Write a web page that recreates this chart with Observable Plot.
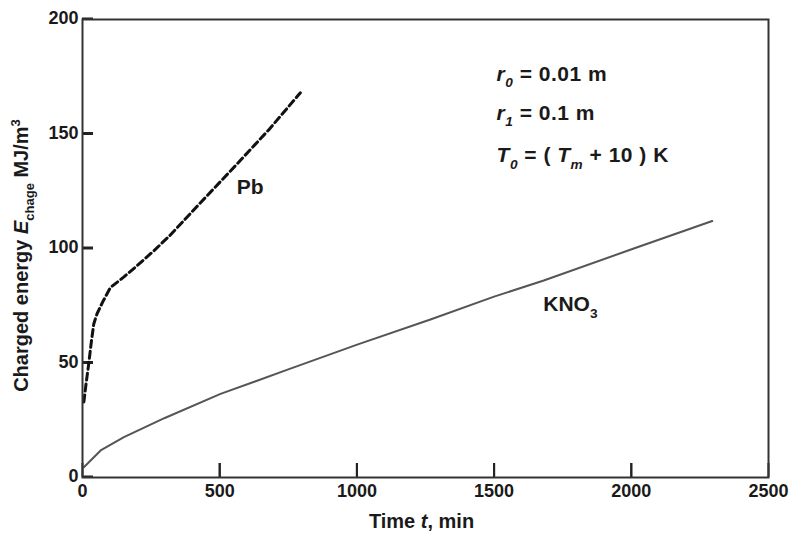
<!DOCTYPE html>
<html><head><meta charset="utf-8">
<script src="https://cdn.jsdelivr.net/npm/d3@7"></script>
<script src="https://cdn.jsdelivr.net/npm/@observablehq/plot@0.6"></script>
<style>body{margin:0;background:#fff} svg{display:block}</style>
</head><body><div id="chart"></div>
<script>
// ---- data ----
const xTicks = [0, 500, 1000, 1500, 2000, 2500];
const yTicks = [0, 50, 100, 150, 200];

const kno3Time   = [5, 66, 151, 300, 503, 750, 1001, 1268, 1500, 1681, 2009, 2295];
const kno3Energy = [4.5, 11.8, 17.6, 26, 36.5, 47.2, 58, 69, 79, 86, 100, 112];

const pbTime   = [5, 12, 23, 33, 41, 53, 75, 102, 150, 199, 260, 321, 430, 564, 680, 794];
const pbEnergy = [33, 40, 50, 60, 67, 71.5, 77, 83, 87.5, 92.5, 99, 106, 120, 137, 152, 168];

const annoText = ["r0 = 0.01 m", "r1 = 0.1 m", "T0 = ( Tm + 10 ) K", "Pb", "KNO3"];
const annoTime = [1509, 1509, 1509, 611, 1778];
const annoEnergy = [176, 159, 140.6, 126.6, 75.5];
const annoAnchor = ["start", "start", "start", "middle", "middle"];

const xTitle = "Time t, min";
const yTitle = "Charged energy Echage MJ/m3";

// ---- build ----
const font = "'Liberation Sans', Arial, sans-serif";
const ink = "#1a1a1a";
const kno3 = kno3Time.map((t, i) => ({t, e: kno3Energy[i]}));
const pb = pbTime.map((t, i) => ({t, e: pbEnergy[i]}));
const anno = annoText.map((s, i) => ({s, t: annoTime[i], e: annoEnergy[i], a: annoAnchor[i]}));

const W = 794, H = 543, ML = 82, MR = 26, MT = 19, MB = 66;
const frameW = W - ML - MR, frameH = H - MT - MB;

const chart = Plot.plot({
  width: W, height: H,
  marginLeft: ML, marginRight: MR, marginTop: MT, marginBottom: MB,
  style: {fontFamily: font, fontWeight: "bold", fontSize: "18px", color: ink, background: "#fff"},
  x: {domain: [xTicks[0], xTicks[xTicks.length - 1]]},
  y: {domain: [yTicks[0], yTicks[yTicks.length - 1]]},
  marks: [
    // axes with inward ticks (negative tick size) and labels outside
    Plot.axisX(xTicks, {tickSize: -14, tickPadding: 21, label: null, tickFormat: d3.format("d"), fontSize: 18, fontWeight: "bold", fill: ink, stroke: "#222", strokeWidth: 2}),
    Plot.axisY(yTicks, {tickSize: -11, tickPadding: 15, label: null, tickFormat: d3.format("d"), fontSize: 18, fontWeight: "bold", fill: ink, stroke: "#222", strokeWidth: 2, dy: -1}),
    Plot.ruleX(xTicks.slice(1, -1), {x: d => d, insetTop: frameH - 14, stroke: "#222", strokeWidth: 2}),
    Plot.ruleY(yTicks.slice(1, -1), {y: d => d, insetRight: frameW - 11, stroke: "#222", strokeWidth: 2}),
    Plot.line(kno3, {x: "t", y: "e", stroke: "#555", strokeWidth: 2}),
    Plot.line(pb, {x: "t", y: "e", stroke: "#111", strokeWidth: 3, strokeDasharray: "7,4"}),
    Plot.text(anno.filter(d => d.a === "start"), {x: "t", y: "e", text: "s", textAnchor: "start", fontSize: 21, fontWeight: "bold", fill: ink}),
    Plot.text(anno.filter(d => d.a === "middle"), {x: "t", y: "e", text: "s", textAnchor: "middle", fontSize: 21, fontWeight: "bold", fill: ink}),
    Plot.text([xTitle], {frameAnchor: "bottom", textAnchor: "middle", dy: 50, dx: -4, fontSize: 20, fontWeight: "bold", fill: ink}),
    Plot.text([yTitle], {frameAnchor: "left", textAnchor: "middle", rotate: -90, dx: -61, dy: 7, fontSize: 20, fontWeight: "bold", fill: ink}),
    Plot.frame({stroke: "#333", strokeWidth: 2})
  ]
});
document.getElementById("chart").append(chart);

// ---- rich text (italics, sub/superscripts) ----
const svg = d3.select(chart);
function rich(plain, parts, spacing) {
  svg.selectAll("text").filter(function () { return this.textContent === plain; }).each(function () {
    const t = d3.select(this);
    const size = parseFloat(getComputedStyle(this).fontSize) || 18;
    t.text(null);
    if (spacing) t.attr("letter-spacing", spacing);
    let shift = 0;
    parts.forEach(p => {
      const o = typeof p === "string" ? {s: p} : p;
      const ts = t.append("tspan").text(o.s);
      if (o.i) ts.attr("font-style", "italic");
      const target = o.sub ? size * 0.3 : o.sup ? -size * 0.4 : 0;
      if (target !== shift) { ts.attr("dy", target - shift); shift = target; }
      if (o.sub || o.sup) ts.attr("font-size", size * 0.65);
    });
  });
}
rich(annoText[0], [{s: "r", i: 1}, {s: "0", i: 1, sub: 1}, " = 0.01 m"], 0.5);
rich(annoText[1], [{s: "r", i: 1}, {s: "1", i: 1, sub: 1}, " = 0.1 m"], 0.5);
rich(annoText[2], [{s: "T", i: 1}, {s: "0", i: 1, sub: 1}, " = ( ", {s: "T", i: 1}, {s: "m", i: 1, sub: 1}, " + 10 ) K"], 0.5);
rich(annoText[4], ["KNO", {s: "3", sub: 1}]);
rich(xTitle, ["Time ", {s: "t", i: 1}, ", min"]);
rich(yTitle, ["Charged energy ", {s: "E", i: 1}, {s: "chage", sub: 1}, " MJ/m", {s: "3", sup: 1}]);
</script>
</body></html>
